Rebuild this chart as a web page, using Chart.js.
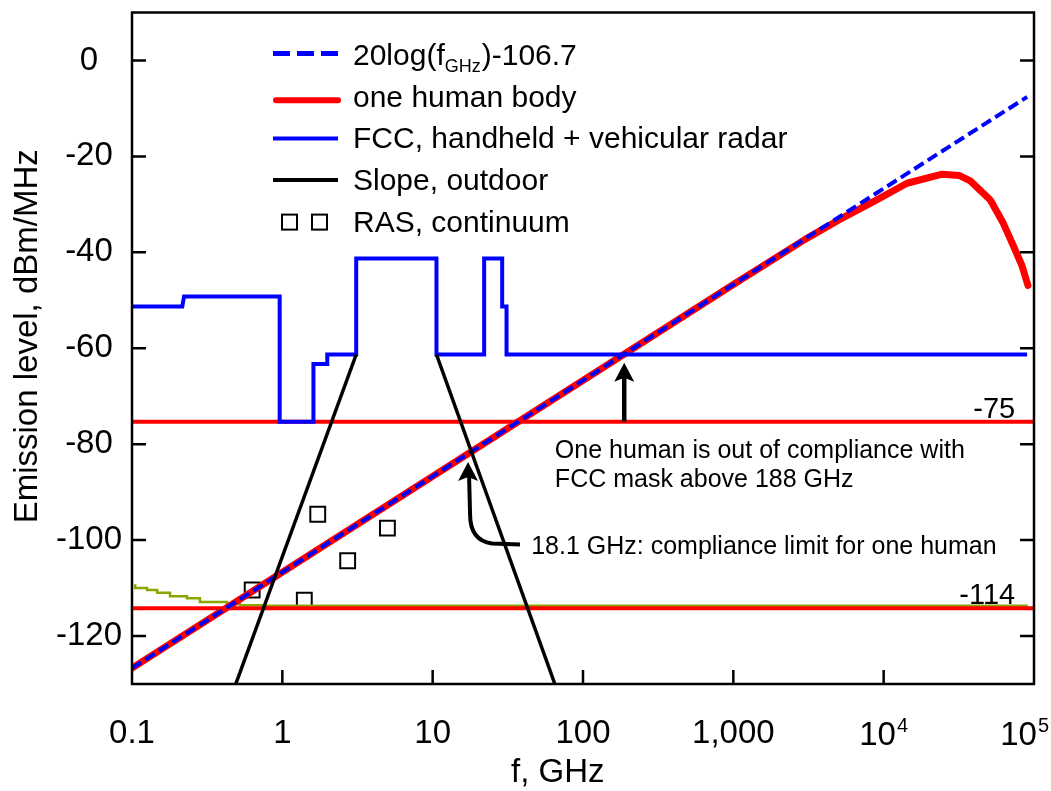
<!DOCTYPE html>
<html>
<head>
<meta charset="utf-8">
<script src="https://cdn.jsdelivr.net/npm/chart.js@4.4.1/dist/chart.umd.min.js"></script>
<style>
  html, body { margin: 0; padding: 0; background: #fff; }
  #wrap { width: 1051px; height: 791px; }
</style>
</head>
<body>
<div id="wrap"><canvas id="plot" width="1051" height="791"></canvas></div>
<script>
// axis ticks
const xTickValues = [0.1, 1, 10, 100, 1000, 1e4, 1e5];
const xTickLabels = ['0.1', '1', '10', '100', '1,000', ['10', '4'], ['10', '5']];
const yTickValues = [-120, -100, -80, -60, -40, -20, 0];

// 20log(f)-106.7 fit
const fitFreq = [0.1, 1, 10, 100, 1000, 1e4, 9e4];
const fitLevel = [-126.7, -106.7, -86.7, -66.7, -46.7, -26.7, -7.6];

// one human body
const bodyFreq = [0.1, 1000, 3000, 5000, 8500, 14300, 24500, 32000, 37700, 51200, 62400, 72800, 83200, 91200];
const bodyLevel = [-126.7, -46.7, -37.3, -33.3, -29.5, -25.6, -23.7, -24.0, -25.1, -29.1, -33.9, -38.6, -42.8, -46.9];

// FCC handheld + vehicular radar mask
const fccFreq = [0.1, 0.216, 0.222, 0.96, 0.96, 1.61, 1.61, 1.99, 1.99, 3.1, 3.1, 10.6, 10.6, 22, 22, 29, 29, 31, 31, 9e4];
const fccLevel = [-51.3, -51.3, -49.2, -49.2, -75.3, -75.3, -63.3, -63.3, -61.3, -61.3, -41.3, -41.3, -61.3, -61.3, -41.3, -41.3, -51.3, -51.3, -61.3, -61.3];

// slope, outdoor
const slopeLowFreq = [0.49, 3.1];
const slopeLowLevel = [-130, -61.3];
const slopeHighFreq = [10.6, 65];
const slopeHighLevel = [-61.3, -130];

// RAS continuum
const rasFreq = [0.63, 1.4, 1.72, 2.72, 5.0];
const rasLevel = [-110.4, -112.5, -94.6, -104.3, -97.5];

// olive background curve
const bgFreq = [0.105, 0.126, 0.147, 0.179, 0.232, 0.283, 0.428, 0.523, 0.745, 1.12, 9.1e4];
const bgLevel = [-109.2, -110.0, -110.4, -111.0, -111.7, -112.1, -112.9, -113.3, -113.6, -113.7, -113.7];

// horizontal limits
const limitFreq = [0.1, 1e5];
const limit75 = [-75.3, -75.3];
const limit114 = [-114.2, -114.2];

const FONT = "'Liberation Sans', Arial, sans-serif";
const toPoints = (xs, ys) => xs.map((x, i) => ({ x, y: ys[i] }));

const legendRows = [
  { kind: 'dash', color: '#0000ff', width: 5, text: ['20log(f', 'GHz', ')-106.7'], dy: 11.7 },
  { kind: 'line', color: '#ff0000', width: 6, text: 'one human body', dy: 6.6 },
  { kind: 'line', color: '#0000ff', width: 4, text: 'FCC, handheld + vehicular radar', dy: 10 },
  { kind: 'line', color: '#000000', width: 4, text: 'Slope, outdoor', dy: 10 },
  { kind: 'box', text: 'RAS, continuum', dy: 9.5 },
];

function arrowHead(ctx, tx, ty, dir) {
  // dir = 1 pointing up
  ctx.beginPath();
  ctx.moveTo(tx, ty);
  ctx.lineTo(tx - 10, ty + 19 * dir);
  ctx.lineTo(tx, ty + 15 * dir);
  ctx.lineTo(tx + 10, ty + 19 * dir);
  ctx.closePath();
  ctx.fill();
}

const overlay = {
  id: 'overlay',
  afterDraw(chart) {
    const { ctx, chartArea: a, scales: { x, y } } = chart;
    ctx.save();
    ctx.strokeStyle = '#000';
    ctx.fillStyle = '#000';

    // frame and inward ticks
    ctx.lineWidth = 2.5;
    ctx.strokeRect(a.left, a.top, a.right - a.left, a.bottom - a.top);
    ctx.beginPath();
    yTickValues.forEach(v => {
      const py = y.getPixelForValue(v);
      ctx.moveTo(a.left, py); ctx.lineTo(a.left + 14, py);
      ctx.moveTo(a.right, py); ctx.lineTo(a.right - 14, py);
    });
    xTickValues.slice(1, -1).forEach(v => {
      const px = x.getPixelForValue(v);
      ctx.moveTo(px, a.bottom); ctx.lineTo(px, a.bottom - 14);
    });
    ctx.stroke();

    // power-of-ten tick labels with raised exponent
    ctx.textBaseline = 'alphabetic';
    ctx.textAlign = 'left';
    xTickValues.forEach((v, i) => {
      const lab = xTickLabels[i];
      if (!Array.isArray(lab)) return;
      ctx.font = '33px ' + FONT;
      const w0 = ctx.measureText(lab[0]).width;
      ctx.font = '20px ' + FONT;
      const w1 = ctx.measureText(lab[1]).width;
      const w = w0 + w1 + 1;
      const left = Math.min(x.getPixelForValue(v) - w / 2, chart.width - 2 - w);
      ctx.font = '33px ' + FONT;
      ctx.fillText(lab[0], left, a.bottom + 61);
      ctx.font = '20px ' + FONT;
      ctx.fillText(lab[1], left + w0 + 1, a.bottom + 48);
    });

    // axis titles
    ctx.font = '33px ' + FONT;
    ctx.textAlign = 'center';
    ctx.fillText('f, GHz', x.getPixelForValue(68), a.bottom + 98);
    ctx.save();
    ctx.translate(a.left - 95, y.getPixelForValue(-57.5));
    ctx.rotate(-Math.PI / 2);
    ctx.fillText('Emission level, dBm/MHz', 0, 0);
    ctx.restore();

    // legend
    const sx0 = a.left + 141, sx1 = a.left + 206, tx = a.left + 221;
    legendRows.forEach((row, i) => {
      const base = a.top + 52.7 + 41.6 * i;
      const sy = base - row.dy;
      if (row.kind === 'box') {
        ctx.lineWidth = 2;
        ctx.strokeStyle = '#000';
        ctx.strokeRect(sx0 + 9, sy - 7.5, 15, 15);
        ctx.strokeRect(sx0 + 39, sy - 7.5, 15, 15);
      } else {
        ctx.beginPath();
        ctx.strokeStyle = row.color;
        ctx.lineWidth = row.width;
        ctx.lineCap = row.kind === 'line' && row.width > 5 ? 'round' : 'butt';
        ctx.setLineDash(row.kind === 'dash' ? [17, 7] : []);
        ctx.moveTo(sx0 + (ctx.lineCap === 'round' ? 3 : 0), sy);
        ctx.lineTo(sx1, sy);
        ctx.stroke();
        ctx.setLineDash([]);
        ctx.lineCap = 'butt';
      }
      ctx.fillStyle = '#000';
      ctx.textBaseline = 'alphabetic';
      ctx.textAlign = 'left';
      if (Array.isArray(row.text)) {
        ctx.font = '30px ' + FONT;
        ctx.fillText(row.text[0], tx, base);
        let cx = tx + ctx.measureText(row.text[0]).width;
        ctx.font = '18px ' + FONT;
        ctx.fillText(row.text[1], cx, base + 6.6);
        cx += ctx.measureText(row.text[1]).width + 1;
        ctx.font = '30px ' + FONT;
        ctx.fillText(row.text[2], cx, base);
      } else {
        ctx.font = '30px ' + FONT;
        ctx.fillText(row.text, tx, base);
      }
    });

    // limit labels
    ctx.font = '29px ' + FONT;
    ctx.textAlign = 'right';
    ctx.fillText('-75', x.getPixelForValue(7.5e4), y.getPixelForValue(limit75[0]) - 4);
    ctx.fillText('-114', x.getPixelForValue(7.5e4), y.getPixelForValue(limit114[0]) - 4);

    // arrow at 188 GHz
    ctx.lineWidth = 4.5;
    const ax = x.getPixelForValue(188);
    const ay0 = y.getPixelForValue(-75.3);
    const ay1 = y.getPixelForValue(-63);
    ctx.beginPath();
    ctx.moveTo(ax, ay0);
    ctx.lineTo(ax, ay1 + 14);
    ctx.stroke();
    arrowHead(ctx, ax, ay1, 1);

    // curved arrow at 18.1 GHz
    const tipX = x.getPixelForValue(17.2), tipY = y.getPixelForValue(-83.7);
    const stX = x.getPixelForValue(38.1), stY = y.getPixelForValue(-100.9);
    ctx.lineWidth = 4;
    ctx.beginPath();
    ctx.moveTo(stX, stY);
    ctx.lineTo(stX - 28, stY - 1);
    ctx.quadraticCurveTo(tipX + 2, stY - 4, tipX + 2, stY - 30);
    ctx.lineTo(tipX + 1, tipY + 14);
    ctx.stroke();
    arrowHead(ctx, tipX, tipY, 1);

    // annotation texts
    ctx.font = '25px ' + FONT;
    ctx.textAlign = 'left';
    const t1x = x.getPixelForValue(65);
    ctx.fillText('One human is out of compliance with', t1x, y.getPixelForValue(-82.8));
    ctx.fillText('FCC mask above 188 GHz', t1x, y.getPixelForValue(-88.9));
    ctx.fillText('18.1 GHz: compliance limit for one human', x.getPixelForValue(45.2), y.getPixelForValue(-102.8));

    ctx.restore();
  }
};

const lineBase = { showLine: true, pointRadius: 0, tension: 0, fill: false };

new Chart(document.getElementById('plot'), {
  type: 'scatter',
  data: {
    datasets: [
      { ...lineBase, label: 'Slope low', data: toPoints(slopeLowFreq, slopeLowLevel), borderColor: '#000', borderWidth: 3.5, order: 0 },
      { ...lineBase, label: 'Slope high', data: toPoints(slopeHighFreq, slopeHighLevel), borderColor: '#000', borderWidth: 3.5, order: 0 },
      { ...lineBase, label: '20log(fGHz)-106.7', data: toPoints(fitFreq, fitLevel), borderColor: '#0000ff', borderWidth: 4, borderDash: [11, 5], order: 1 },
      { ...lineBase, label: 'FCC, handheld + vehicular radar', data: toPoints(fccFreq, fccLevel), borderColor: '#0000ff', borderWidth: 4, order: 2 },
      { ...lineBase, label: 'one human body', data: toPoints(bodyFreq, bodyLevel), borderColor: '#ff0000', borderWidth: 7, borderJoinStyle: 'round', borderCapStyle: 'round', order: 4 },
      { ...lineBase, label: '-75', data: toPoints(limitFreq, limit75), borderColor: '#ff0000', borderWidth: 4, order: 5 },
      { ...lineBase, label: '-114', data: toPoints(limitFreq, limit114), borderColor: '#ff0000', borderWidth: 4, order: 5 },
      { ...lineBase, label: 'background', data: toPoints(bgFreq, bgLevel), borderColor: '#88a800', borderWidth: 2.5, stepped: 'after', order: 6 },
      { label: 'RAS, continuum', data: toPoints(rasFreq, rasLevel), showLine: false, pointStyle: 'rect', pointRadius: 10.5, borderWidth: 2, borderColor: '#000', backgroundColor: 'rgba(0,0,0,0)', order: 7 },
    ]
  },
  options: {
    responsive: false,
    animation: false,
    events: [],
    devicePixelRatio: 1,
    layout: { padding: { top: 9, right: 17, left: 0, bottom: 0 } },
    plugins: { legend: { display: false }, tooltip: { enabled: false } },
    scales: {
      x: {
        type: 'logarithmic',
        min: 0.1,
        max: 1e5,
        grid: { display: false, drawTicks: false },
        border: { display: false },
        afterBuildTicks: s => { s.ticks = xTickValues.map(v => ({ value: v })); },
        afterFit: s => { s.height = 107; s.paddingLeft = 0; s.paddingRight = 0; },
        ticks: {
          autoSkip: false,
          maxRotation: 0,
          padding: 33,
          color: '#000',
          font: { family: FONT, size: 33, lineHeight: 1 },
          callback: (v) => {
            const i = xTickValues.indexOf(v);
            return i >= 0 && !Array.isArray(xTickLabels[i]) ? xTickLabels[i] : '';
          }
        },
        title: { display: false }
      },
      y: {
        type: 'linear',
        min: -130,
        max: 10,
        grid: { display: false, drawTicks: false },
        border: { display: false },
        afterBuildTicks: s => { s.ticks = yTickValues.map(v => ({ value: v })); },
        afterFit: s => { s.width = 132; s.paddingTop = 0; s.paddingBottom = 0; },
        ticks: {
          padding: 10,
          crossAlign: 'center',
          color: '#000',
          font: { family: FONT, size: 33, lineHeight: 1 },
        },
        title: { display: false }
      }
    }
  },
  plugins: [overlay]
});
</script>
</body>
</html>
